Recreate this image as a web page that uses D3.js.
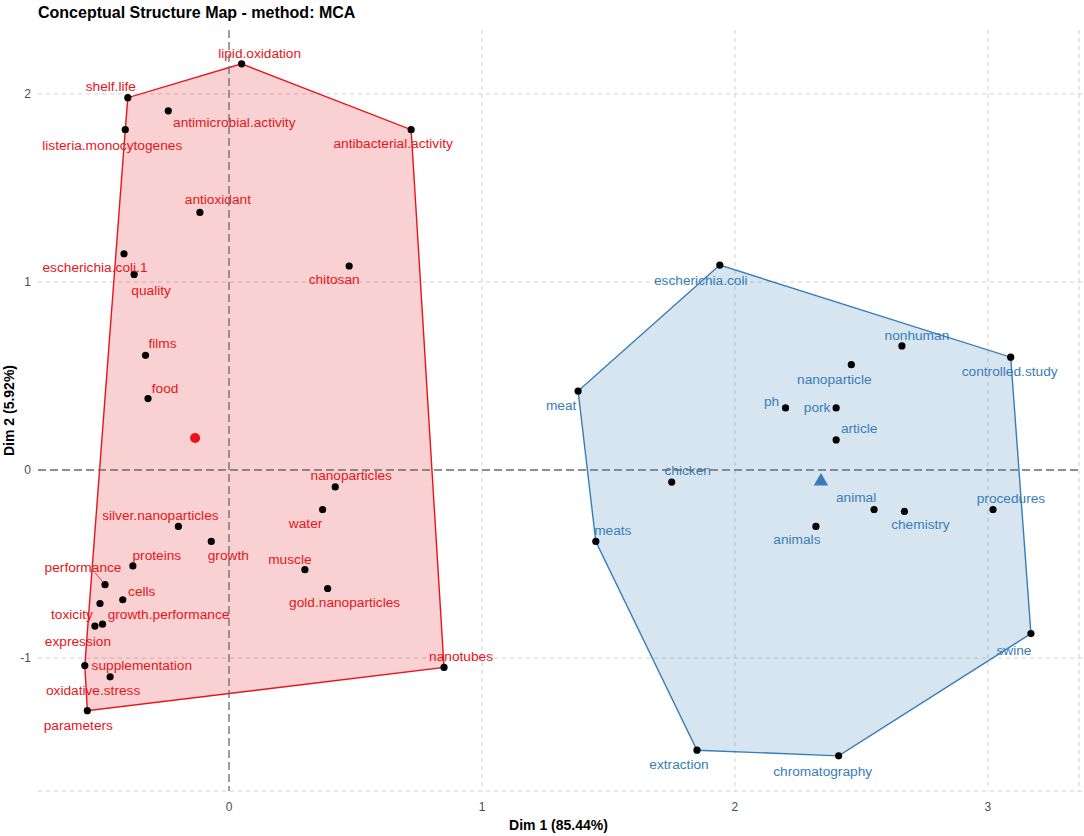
<!DOCTYPE html>
<html>
<head>
<meta charset="utf-8">
<script src="https://cdn.jsdelivr.net/npm/d3@7"></script>
<style>
  body { margin: 0; background: #fff; }
  text { font-family: "Liberation Sans", Arial, sans-serif; }
</style>
</head>
<body>
<div id="chart"></div>
<script>
// cluster 1 (red)
const redTerms = ["lipid.oxidation", "shelf.life", "antimicrobial.activity", "listeria.monocytogenes",
  "antibacterial.activity", "antioxidant", "escherichia.coli.1", "quality", "chitosan", "films", "food",
  "nanoparticles", "water", "silver.nanoparticles", "growth", "proteins", "muscle", "gold.nanoparticles",
  "performance", "cells", "toxicity", "growth.performance", "expression", "supplementation",
  "oxidative.stress", "parameters", "nanotubes"];
const redDim1 = [0.05, -0.40, -0.24, -0.41, 0.72, -0.115, -0.415, -0.375, 0.475, -0.33, -0.32,
  0.42, 0.37, -0.20, -0.07, -0.38, 0.30, 0.39, -0.49, -0.42, -0.51, -0.50, -0.53, -0.57, -0.47, -0.56, 0.85];
const redDim2 = [2.16, 1.98, 1.91, 1.81, 1.81, 1.37, 1.15, 1.04, 1.085, 0.61, 0.38,
  -0.09, -0.21, -0.30, -0.38, -0.51, -0.53, -0.63, -0.61, -0.69, -0.71, -0.82, -0.83, -1.04, -1.10, -1.28, -1.05];
const redCentroid = [-0.134, 0.17];

// cluster 2 (blue)
const blueTerms = ["escherichia.coli", "nonhuman", "controlled.study", "nanoparticle", "meat", "ph", "pork",
  "article", "chicken", "animal", "chemistry", "procedures", "animals", "meats", "swine", "extraction",
  "chromatography"];
const blueDim1 = [1.94, 2.66, 3.09, 2.46, 1.38, 2.20, 2.40, 2.40, 1.75, 2.55, 2.67, 3.02, 2.32, 1.45, 3.17, 1.85, 2.41];
const blueDim2 = [1.09, 0.66, 0.60, 0.56, 0.42, 0.33, 0.33, 0.16, -0.064, -0.21, -0.22, -0.21, -0.30, -0.38, -0.87, -1.49, -1.52];
const blueCentroid = [2.34, -0.06];

// label nudges in pixels (repelled label placement)
const redNudge = [[18, -11], [-17, -12], [66, 11], [-13, 15], [-18, 13], [18, -13], [-29, 13], [17, 16],
  [-15, 13], [17, -12], [17, -11], [16, -12], [-17, 13], [-18, -11], [17, 14], [24, -11], [-15, -11],
  [17, 14], [-22, -18], [19, -9], [-28, 10], [66, -10], [-17, 15], [57, -1], [-17, 13], [-9, 14], [17, -11]];
const blueNudge = [[-19, 15], [15, -11], [-1, 14], [-17, 14], [-17, 14], [-14, -7], [-19, -1], [23, -12],
  [16, -12], [-18, -13], [16, 13], [18, -12], [-19, 13], [17, -11], [-17, 16], [-18, 14], [-16, 15]];

const xTicks = [0, 1, 2, 3];
const yTicks = [-1, 0, 1, 2];

const width = 1084, height = 836;
const mLeft = 38, mRight = 1079, mTop = 30, mBottom = 791;

const x = d3.scaleLinear().domain([-0.755, 3.36]).range([mLeft, mRight]);
const y = d3.scaleLinear().domain([-1.707, 2.340]).range([mBottom, mTop]);

const svg = d3.select("#chart").append("svg")
  .attr("width", width).attr("height", height);

// grid
const grid = svg.append("g")
  .attr("stroke", "#d0d0d0").attr("stroke-width", 1).attr("stroke-dasharray", "4,4").attr("fill", "none");
grid.selectAll(".gx").data(xTicks.filter(d => d !== 0)).join("line")
  .attr("x1", d => x(d)).attr("x2", d => x(d)).attr("y1", mTop).attr("y2", mBottom);
grid.selectAll(".gy").data(yTicks.filter(d => d !== 0)).join("line")
  .attr("x1", mLeft).attr("x2", mRight + 3).attr("y1", d => y(d)).attr("y2", d => y(d));
grid.append("line").attr("x1", mLeft).attr("x2", mRight + 3).attr("y1", mBottom).attr("y2", mBottom);
grid.append("line").attr("x1", mRight).attr("x2", mRight).attr("y1", mTop).attr("y2", mBottom);

// tick labels
svg.append("g").selectAll("text").data(xTicks).join("text")
  .attr("x", d => x(d)).attr("y", mBottom + 20)
  .attr("text-anchor", "middle").attr("font-size", 12).attr("fill", "#4d4d4d")
  .text(d => d);
svg.append("g").selectAll("text").data(yTicks).join("text")
  .attr("x", 31).attr("y", d => y(d) + 4)
  .attr("text-anchor", "end").attr("font-size", 12).attr("fill", "#4d4d4d")
  .text(d => d);

function cluster(terms, d1, d2, nudge, color, fill) {
  const pts = terms.map((t, i) => ({ t, px: x(d1[i]), py: y(d2[i]), dx: nudge[i][0], dy: nudge[i][1] }));
  const hull = d3.polygonHull(pts.map(p => [p.px, p.py]));
  const g = svg.append("g");
  g.append("path")
    .attr("d", "M" + hull.join("L") + "Z")
    .attr("fill", fill).attr("stroke", color).attr("stroke-width", 1.4);
  return { g, pts };
}

const red = cluster(redTerms, redDim1, redDim2, redNudge, "#E8141A", "rgba(228,26,28,0.2)");
const blue = cluster(blueTerms, blueDim1, blueDim2, blueNudge, "#377EB8", "rgba(55,126,184,0.2)");

// zero reference lines
const zl = svg.append("g")
  .attr("stroke", "#6b6b6b").attr("stroke-width", 1.3).attr("stroke-dasharray", "8,4");
zl.append("line").attr("x1", x(0)).attr("x2", x(0)).attr("y1", mTop).attr("y2", mBottom);
zl.append("line").attr("x1", mLeft).attr("x2", mRight + 3).attr("y1", y(0)).attr("y2", y(0));

function drawLabels(c, color) {
  c.pts.forEach(p => {
    if (p.t === "performance") {
      c.g.append("line")
        .attr("x1", p.px).attr("y1", p.py).attr("x2", p.px + p.dx + 12).attr("y2", p.py + p.dy + 6)
        .attr("stroke", color).attr("stroke-width", 0.8);
    }
  });
  c.g.selectAll("circle").data(c.pts).join("circle")
    .attr("cx", d => d.px).attr("cy", d => d.py).attr("r", 3.6).attr("fill", "#000");
  c.g.selectAll("text").data(c.pts).join("text")
    .attr("x", d => d.px + d.dx).attr("y", d => d.py + d.dy + 5)
    .attr("text-anchor", "middle").attr("font-size", 13.7).attr("fill", color)
    .text(d => d.t);
}
drawLabels(red, "#E8141A");
drawLabels(blue, "#377EB8");

// centroids
svg.append("circle").attr("cx", x(redCentroid[0])).attr("cy", y(redCentroid[1]))
  .attr("r", 5).attr("fill", "#E8141A");
svg.append("path")
  .attr("transform", `translate(${x(blueCentroid[0])},${y(blueCentroid[1])})`)
  .attr("d", d3.symbol(d3.symbolTriangle, 90)())
  .attr("fill", "#377EB8");

// titles
svg.append("text").attr("x", mLeft).attr("y", 18)
  .attr("font-size", 16).attr("font-weight", "bold").attr("fill", "#000")
  .text("Conceptual Structure Map - method: MCA");
svg.append("text").attr("x", (mLeft + mRight) / 2).attr("y", 830)
  .attr("text-anchor", "middle").attr("font-size", 14).attr("font-weight", "bold")
  .text("Dim 1 (85.44%)");
svg.append("text").attr("transform", `translate(14,${(mTop + mBottom) / 2}) rotate(-90)`)
  .attr("text-anchor", "middle").attr("font-size", 14).attr("font-weight", "bold")
  .text("Dim 2 (5.92%)");
</script>
</body>
</html>
